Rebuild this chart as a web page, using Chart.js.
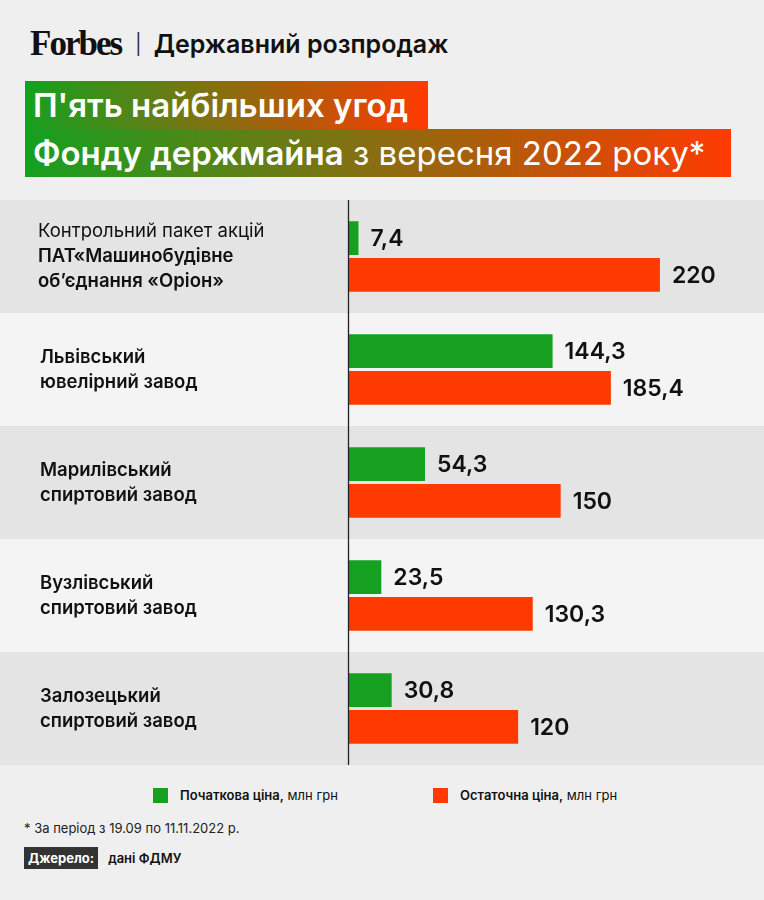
<!DOCTYPE html>
<html><head><meta charset="utf-8">
<script src="https://cdn.jsdelivr.net/npm/chart.js@4"></script>
<style>
body{margin:0;background:#efefef;font-family:Inter,"Noto Sans",sans-serif;}
#wrap{position:relative;width:764px;height:900px;overflow:hidden;}
.hdr{position:absolute;left:30px;top:24px;font-size:25px;color:#111;display:flex;align-items:center;}
.forbes{font-family:"Liberation Serif",serif;font-weight:bold;font-size:35px;letter-spacing:-2px;}
.sep{margin:0 12px 0 14px;font-size:20px;color:#333;}
.t{position:absolute;left:25px;color:#fff;font-size:33px;padding:0 8px;height:48px;line-height:48px;white-space:nowrap;}
#c{position:absolute;left:0;top:200px;}
.leg{position:absolute;top:787px;font-size:13px;color:#111;display:flex;align-items:center;}
.leg i{display:inline-block;width:15px;height:15px;margin-right:12px;}
.note{position:absolute;left:24px;top:820px;font-size:13px;color:#222;}
.src{position:absolute;left:24px;top:850px;font-size:13px;color:#111;}
.src span{background:#333;color:#fff;font-weight:bold;padding:3px 4px;margin-right:10px;}
</style></head><body><div id="wrap">
<div class="hdr"><span class="forbes">Forbes</span><span class="sep">|</span><span style="font-weight:600">Державний розпродаж</span></div>
<div class="t" style="top:81px;width:387px;background:linear-gradient(90deg,#15a020,#ff3a00 100%);font-weight:600">П'ять найбільших угод</div>
<div class="t" style="top:129px;width:690px;background:linear-gradient(90deg,#15a020,#ff3a00);"><b style="font-weight:600">Фонду держмайна</b> з вересня 2022 року*</div>
<canvas id="c" width="764" height="565"></canvas>
<div class="leg" style="left:153px"><i style="background:#15a020"></i><b style="font-weight:600">Початкова ціна,</b>&nbsp;млн грн</div>
<div class="leg" style="left:433px"><i style="background:#ff3a00"></i><b style="font-weight:600">Остаточна ціна,</b>&nbsp;млн грн</div>
<div class="note">* За період з 19.09 по 11.11.2022 р.</div>
<div class="src"><span>Джерело:</span><b style="font-weight:600">дані ФДМУ</b></div>
</div>
<script>
const categories=[["Контрольний пакет акцій","ПАТ«Машинобудівне","об’єднання «Оріон»"],["Львівський","ювелірний завод"],["Марилівський","спиртовий завод"],["Вузлівський","спиртовий завод"],["Залозецький","спиртовий завод"]];
const initialPrice=[7.4,144.3,54.3,23.5,30.8];
const finalPrice=[220,185.4,150,130.3,120];
const fmt=v=>String(v).replace('.',',');
const deco={id:'deco',
beforeDraw(ch){const c=ch.ctx;c.save();
 categories.forEach((cat,i)=>{const h=ch.height/categories.length;c.fillStyle=i%2?'#f4f4f4':'#e4e4e4';c.fillRect(0,i*h,ch.width,h);});
 c.restore();},
afterDatasetsDraw(ch){const c=ch.ctx,y=ch.scales.y,x=ch.scales.x;c.save();
 c.strokeStyle='#222';c.lineWidth=1.3;c.beginPath();c.moveTo(x.left+0.5,0);c.lineTo(x.left+0.5,ch.height);c.stroke();
 c.textBaseline='middle';c.fillStyle='#111';
 categories.forEach((cat,i)=>{const cy=y.getPixelForValue(i);const n=cat.length;
  cat.forEach((l,j)=>{const bold=!(i==0&&j==0);c.font=(bold?'600 ':'400 ')+'18.5px Inter';c.fillText(l,i==0?38:40,cy+(j-(n-1)/2)*25);});});
 c.font='600 23px Inter';
 ch.data.datasets.forEach((ds,di)=>{ch.getDatasetMeta(di).data.forEach((b,i)=>{c.fillText(fmt(ds.data[i]),b.x+12,b.y+1);});});
 c.restore();}};
new Chart(document.getElementById('c'),{type:'bar',
data:{labels:categories,datasets:[
 {data:initialPrice,backgroundColor:'#15a020',barPercentage:0.92,categoryPercentage:0.65},
 {data:finalPrice,backgroundColor:'#ff3a00',barPercentage:0.92,categoryPercentage:0.65}]},
options:{indexAxis:'y',responsive:false,animation:false,layout:{padding:{left:348}},
 plugins:{legend:{display:false},tooltip:{enabled:false}},
 scales:{x:{display:false,min:0,max:293.4},y:{display:false}}},
plugins:[deco]});
</script></body></html>
